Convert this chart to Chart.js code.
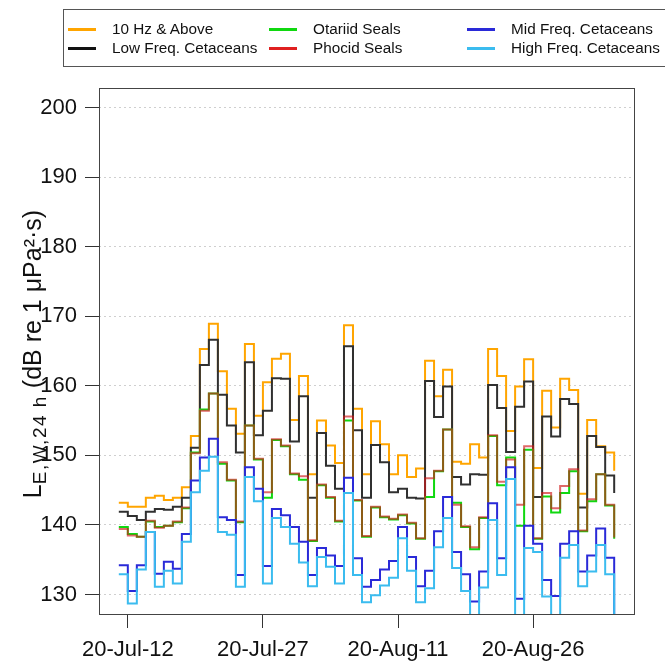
<!DOCTYPE html>
<html>
<head>
<meta charset="utf-8">
<script src="https://cdn.jsdelivr.net/npm/chart.js@4.4.1/dist/chart.umd.min.js"></script>
<style>
  html, body { margin: 0; padding: 0; background: #fff; }
  #wrap { position: relative; width: 665px; height: 664px; overflow: hidden; }
  #legend {
    position: absolute; left: 63px; top: 9px; width: 640px; height: 56px;
    border: 1px solid #555;
    font-family: "Liberation Sans", Arial, sans-serif; font-size: 15.3px; color: #111;
  }
  .item { position: absolute; white-space: nowrap; line-height: 18px; }
  .swatch { position: absolute; left: -44px; top: 8px; width: 28px; height: 3px; }
</style>
</head>
<body>
<div id="wrap">
  <canvas id="chart" width="665" height="664"></canvas>
  <div id="legend"></div>
</div>
<script>
// ----------------------------
// DATA (one value per day, 11 Jul .. 4 Sep)
// ----------------------------
const xTickDays = [1, 16, 31, 46];
const xTickLabels = ['20-Jul-12', '20-Jul-27', '20-Aug-11', '20-Aug-26'];
const yTicks = [130, 140, 150, 160, 170, 180, 190, 200];

const seriesNames = ['10 Hz & Above', 'Low Freq. Cetaceans', 'Otariid Seals', 'Phocid Seals', 'Mid Freq. Cetaceans', 'High Freq. Cetaceans'];
const seriesColors = ['#ffa500', '#303030', '#10d810', 'rgba(208,24,24,0.65)', '#2a2ad8', '#3bbcef'];
const legendColors = ['#ffa500', '#111111', '#10d810', '#e02020', '#2a2ad8', '#3bbcef'];

const above10Hz = [143.2, 142.6, 142.6, 143.9, 144.2, 143.6, 143.9, 145.4, 152.8, 165.3,
  168.9, 162.1, 156.7, 153.1, 166.0, 155.7, 160.5, 163.9, 164.6, 155.1,
  161.4, 147.3, 155.0, 151.4, 148.9, 168.7, 156.7, 147.3, 154.9, 151.6,
  147.3, 150.0, 146.9, 148.1, 163.6, 158.5, 162.3, 149.1, 148.8, 151.6,
  149.7, 165.3, 161.4, 153.5, 159.9, 163.8, 148.2, 159.3, 154.0, 161.0,
  159.4, 144.5, 155.1, 151.3, 150.4, 147.8];
const lowFreq = [141.9, 141.3, 140.7, 141.9, 142.3, 142.2, 142.6, 143.9, 151.1, 163.0,
  166.6, 158.7, 154.3, 150.4, 163.4, 152.9, 156.4, 161.1, 161.0, 152.0,
  158.5, 143.9, 153.2, 148.5, 145.2, 165.7, 153.6, 143.9, 151.5, 149.0,
  144.7, 145.2, 143.9, 143.8, 160.7, 155.5, 159.9, 146.9, 145.8, 147.3,
  147.2, 160.1, 156.8, 150.5, 157.0, 160.6, 144.0, 155.6, 152.7, 158.1,
  157.4, 142.5, 152.8, 151.2, 147.1, 144.6];
const otariid = [139.7, 138.7, 138.3, 140.5, 139.7, 139.9, 140.4, 142.4, 150.4, 156.6,
  158.9, 148.8, 146.4, 140.4, 154.3, 149.4, 143.9, 152.2, 151.3, 147.3,
  146.5, 137.7, 145.7, 143.9, 140.5, 155.0, 143.5, 138.3, 142.5, 141.1,
  140.8, 141.4, 140.2, 138.0, 144.0, 147.7, 153.7, 143.2, 139.7, 136.5,
  141.0, 152.8, 145.7, 149.7, 139.9, 150.8, 138.0, 144.1, 141.8, 144.6,
  147.7, 139.1, 143.4, 147.3, 142.8, 138.0];
const phocid = [139.4, 138.5, 138.3, 140.6, 139.6, 139.9, 140.5, 142.5, 150.3, 156.4,
  158.9, 149.0, 146.5, 140.5, 154.3, 149.5, 144.7, 152.3, 151.4, 147.4,
  147.0, 137.8, 145.8, 144.0, 140.6, 155.6, 143.6, 138.4, 142.6, 141.2,
  140.9, 141.5, 140.3, 138.1, 146.7, 147.8, 153.7, 142.9, 139.8, 136.8,
  141.1, 152.9, 146.2, 149.4, 142.9, 151.3, 138.1, 144.6, 142.4, 145.6,
  148.0, 139.2, 143.7, 147.3, 142.9, 138.2];
const midFreq = [134.2, 130.5, 134.2, 139.0, 133.0, 134.7, 133.7, 138.7, 146.4, 149.7,
  152.4, 141.1, 140.7, 132.8, 148.3, 145.2, 134.1, 142.3, 141.4, 139.7,
  137.6, 132.8, 136.7, 135.6, 134.1, 146.8, 135.2, 131.1, 132.1, 133.6,
  134.8, 139.7, 135.4, 131.2, 133.4, 139.1, 144.0, 136.1, 132.9, 129.0,
  133.3, 143.1, 135.2, 148.3, 129.4, 139.9, 137.3, 132.1, 129.8, 137.3,
  139.1, 133.3, 135.6, 139.5, 135.3, 125.0];
const highFreq = [132.9, 128.7, 133.6, 139.0, 131.1, 133.4, 131.6, 137.6, 144.7, 147.8,
  149.8, 139.0, 138.6, 131.1, 146.9, 143.4, 131.6, 141.0, 139.7, 137.3,
  134.6, 131.2, 135.4, 134.0, 131.6, 144.6, 132.8, 128.9, 129.9, 131.3,
  132.4, 138.1, 133.4, 128.9, 130.9, 136.8, 141.0, 133.8, 130.5, 126.0,
  131.0, 140.7, 132.8, 146.6, 126.0, 136.7, 136.1, 129.7, 126.0, 135.3,
  137.1, 131.2, 133.3, 137.1, 132.9, 125.0];

const seriesValues = [above10Hz, lowFreq, otariid, phocid, midFreq, highFreq];

const FONT = '"Liberation Sans", Arial, sans-serif';

// ----------------------------
// LEGEND (html, 3 columns x 2 rows)
// ----------------------------
const legend = document.getElementById('legend');
const colLeft = [48, 249, 447];
const rowTop = [10, 29];
// column-wise order: col 0 = items 0,1 ; col 1 = items 2,3 ; col 2 = items 4,5
seriesNames.forEach((name, i) => {
  const item = document.createElement('div');
  item.className = 'item';
  item.style.left = colLeft[Math.floor(i / 2)] + 'px';
  item.style.top = rowTop[i % 2] + 'px';
  item.textContent = name;
  const sw = document.createElement('span');
  sw.className = 'swatch';
  sw.style.background = legendColors[i];
  item.appendChild(sw);
  legend.appendChild(item);
});

// ----------------------------
// BOX + Y TITLE
// ----------------------------
const framePlugin = {
  id: 'frame',
  afterDraw(chart) {
    const { ctx, chartArea: a } = chart;
    ctx.save();
    ctx.strokeStyle = '#444';
    ctx.lineWidth = 1;
    ctx.strokeRect(Math.round(a.left) + 0.5, Math.round(a.top) + 0.5,
      Math.round(a.right - a.left), Math.round(a.bottom - a.top));

    // y title with subscript
    const big = '25px ' + FONT;
    const small = '19px ' + FONT;
    ctx.fillStyle = '#111';
    ctx.textBaseline = 'alphabetic';
    ctx.translate(41, 354);
    ctx.rotate(-Math.PI / 2);
    ctx.font = big;
    const wL = ctx.measureText('L').width;
    const rest = ' (dB re 1 \u03BCPa\u00B2\u00B7s)';
    const wRest = ctx.measureText(rest).width;
    ctx.font = small;
    ctx.letterSpacing = '1.5px';
    const sub = 'E,W,24 h';
    const wSub = ctx.measureText(sub).width;
    let x = -(wL + wSub + wRest) / 2;
    ctx.letterSpacing = '0px';
    ctx.font = big;
    ctx.fillText('L', x, 0);
    x += wL;
    ctx.font = small;
    ctx.letterSpacing = '1.5px';
    ctx.fillText(sub, x, 5);
    ctx.letterSpacing = '0px';
    x += wSub;
    ctx.font = big;
    ctx.fillText(rest, x, 0);
    ctx.restore();
  }
};

// ----------------------------
// CHART
// ----------------------------
const datasets = seriesNames.map((name, i) => ({
  label: name,
  data: seriesValues[i].map((v, d) => ({ x: d, y: v })),
  borderColor: seriesColors[i],
  borderWidth: 2,
  pointRadius: 0,
  stepped: true,
  fill: false,
  order: seriesNames.length - i
}));

new Chart(document.getElementById('chart'), {
  type: 'line',
  data: { datasets },
  plugins: [framePlugin],
  options: {
    responsive: false,
    animation: false,
    devicePixelRatio: 1,
    layout: { padding: { left: 0, top: 88, right: 31, bottom: 0 } },
    plugins: { legend: { display: false }, tooltip: { enabled: false } },
    scales: {
      x: {
        type: 'linear',
        min: -2.2,
        max: 57.2,
        afterFit: s => { s.height = 50; },
        afterBuildTicks: s => { s.ticks = xTickDays.map(v => ({ value: v })); },
        ticks: {
          autoSkip: false,
          maxRotation: 0,
          padding: 9,
          color: '#111',
          font: { family: FONT, size: 22 },
          callback: v => xTickLabels[xTickDays.indexOf(v)]
        },
        grid: { drawOnChartArea: false, tickLength: 14, tickColor: '#333', tickWidth: 1 },
        border: { display: false }
      },
      y: {
        min: 127.2,
        max: 202.8,
        afterFit: s => { s.width = 99; },
        afterBuildTicks: s => { s.ticks = yTicks.map(v => ({ value: v })); },
        ticks: {
          padding: 8,
          color: '#111',
          font: { family: FONT, size: 22 }
        },
        grid: {
          color: '#cfcfcf', lineWidth: 1, tickLength: 14, tickColor: '#333',
          tickWidth: 1, tickBorderDash: []
        },
        border: { display: false, dash: [2, 3] }
      }
    }
  }
});
</script>
</body>
</html>
